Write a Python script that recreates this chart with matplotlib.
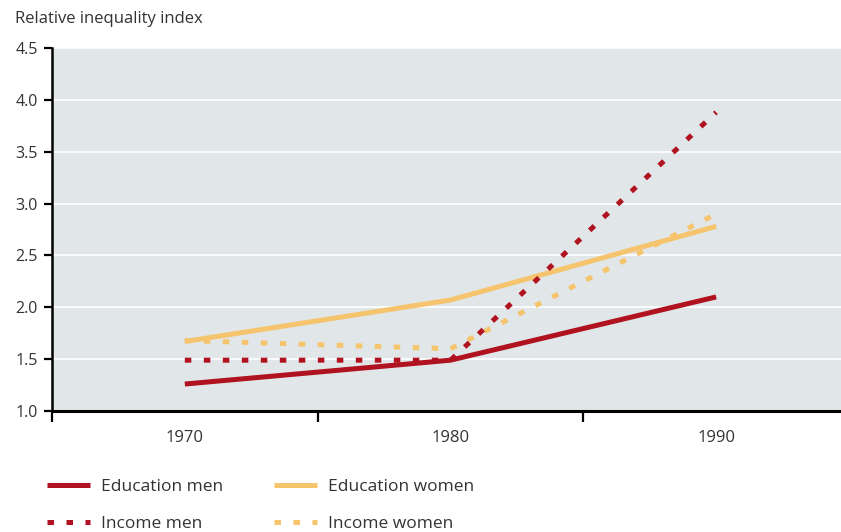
import matplotlib
matplotlib.use("Agg")
import matplotlib.pyplot as plt
from matplotlib.lines import Line2D

# data
years = ["1970", "1980", "1990"]
education_men = [1.26, 1.49, 2.10]
education_women = [1.67, 2.07, 2.78]
income_men = [1.49, 1.49, 3.88]
income_women = [1.68, 1.60, 2.90]
y_ticks = [1.0, 1.5, 2.0, 2.5, 3.0, 3.5, 4.0, 4.5]

red = "#B0121F"
yellow = "#F6C46C"
text_col = "#333333"

plt.rcParams["font.family"] = ["Open Sans", "DejaVu Sans"]

fig = plt.figure(figsize=(8.41, 5.32), dpi=100)
ax = fig.add_axes([52 / 841, 1 - 411 / 532, 1 - 52 / 841, (411 - 48) / 532])
ax.set_facecolor("#E1E6E8")

x = list(range(len(years)))
lw = 3.6
dots = (1.3, 2.5)
ax.plot(x, education_women, color=yellow, lw=lw, solid_capstyle="butt", zorder=3)
ax.plot(x, income_women, color=yellow, lw=lw, linestyle=(0, dots), dash_capstyle="butt", zorder=3)
ax.plot(x, education_men, color=red, lw=lw, solid_capstyle="butt", zorder=4)
ax.plot(x, income_men, color=red, lw=lw, linestyle=(0, dots), dash_capstyle="butt", zorder=4)

ax.set_yticks(y_ticks)
ax.set_yticklabels([f"{v:.1f}" for v in y_ticks], fontsize=11.5, color=text_col)
ax.set_xticks(x)
ax.set_xticklabels(years, fontsize=12, color=text_col)
ax.set_xticks([-0.5, 0.5, 1.5, 2.5], minor=True)
ax.set_xlim(-0.5, 2.47)
ax.set_ylim(1.0, 4.5)
ax.tick_params(axis="x", which="major", length=0, pad=14)
ax.tick_params(axis="x", which="minor", length=8, width=1.6, direction="out", color="black")
ax.tick_params(axis="y", length=6, width=1.6, color="black", pad=4)

ax.grid(axis="y", color="white", lw=1.2)
ax.set_axisbelow(True)
for s in ["top", "right"]:
    ax.spines[s].set_visible(False)
ax.spines["left"].set_linewidth(1.8)
ax.spines["bottom"].set_linewidth(2.2)

fig.text(15 / 841, 1 - 19 / 532, "Relative inequality index", fontsize=12,
         color=text_col, va="center", ha="left")

handles = [
    Line2D([], [], color=red, lw=lw, solid_capstyle="butt"),
    Line2D([], [], color=red, lw=lw, linestyle=(0, dots), dash_capstyle="butt"),
    Line2D([], [], color=yellow, lw=lw, solid_capstyle="butt"),
    Line2D([], [], color=yellow, lw=lw, linestyle=(0, dots), dash_capstyle="butt"),
]
labels = ["Education men", "Income men", "Education women", "Income women"]
fig.legend(handles, labels, ncol=2, loc="upper left",
           bbox_to_anchor=(31 / 841, 1 - 463 / 532), frameon=False,
           fontsize=12.5, handlelength=2.5, handletextpad=0.65,
           columnspacing=2.9, labelspacing=1.2, labelcolor=text_col)

fig.savefig("out.png", dpi=100)
